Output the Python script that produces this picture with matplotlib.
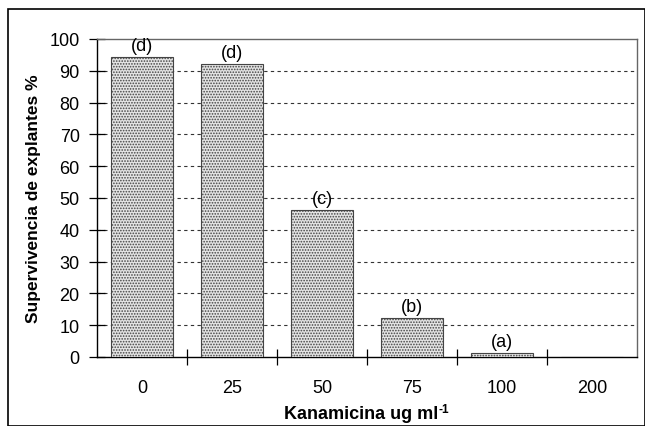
import matplotlib
matplotlib.use("Agg")
import matplotlib.pyplot as plt
from matplotlib.patches import Rectangle

categories = ["0", "25", "50", "75", "100", "200"]
survival = [94.3, 92.2, 46.3, 12.3, 1.3, 0.0]
letters = ["(d)", "(d)", "(c)", "(b)", "(a)", ""]

plt.rcParams['font.family'] = ['Liberation Sans', 'DejaVu Sans']
plt.rcParams['hatch.color'] = '#8a8a8a'
plt.rcParams['hatch.linewidth'] = 0.8

fig = plt.figure(figsize=(6.45, 4.27), dpi=100)
ax = fig.add_axes([97/645, 1-358/427, 540/645, 318/427])

x = list(range(len(categories)))
bars = ax.bar(x, survival, width=0.68, facecolor='#e4e4e4', edgecolor='#444444',
              linewidth=0.8, hatch='......', zorder=3)
for xi, v, lab in zip(x, survival, letters):
    if lab:
        ax.text(xi, v + 1.0, lab, ha='center', va='bottom', fontsize=13, zorder=4)

ax.set_xlim(-0.5, len(categories) - 0.5)
ax.set_ylim(0, 100)
ax.set_yticks(range(0, 101, 10))
ax.set_xticks(x)
ax.set_xticklabels(categories, fontsize=13)
ax.tick_params(axis='x', length=0, pad=16)
ax.set_xticks([i + 0.5 for i in x[:-1]], minor=True)
ax.tick_params(axis='x', which='minor', direction='inout', length=12, width=0.9, color='black')
ax.tick_params(axis='y', direction='inout', length=11, width=0.9, labelsize=13, pad=7)

for y in range(10, 100, 10):
    ax.axhline(y, color='#333333', linestyle=(0, (3, 3)), linewidth=0.8, zorder=1)

for s in ['left', 'bottom']:
    ax.spines[s].set_color('black')
    ax.spines[s].set_linewidth(1.0)
for s in ['top', 'right']:
    ax.spines[s].set_color('#666666')
    ax.spines[s].set_linewidth(1.0)

ax.set_ylabel('Supervivencia de explantes %', fontsize=12.5, fontweight='bold', labelpad=6)
xl = ax.set_xlabel('Kanamicina ug ml', fontsize=13, fontweight='bold', labelpad=6)
xl.set_x(0.5 - 6/540)

fig.canvas.draw()
bb = xl.get_window_extent(renderer=fig.canvas.get_renderer())
bbf = bb.transformed(fig.transFigure.inverted())
fig.text(bbf.x1 + 0.5/645, bbf.y1 + 2/427, '-1', fontsize=8.5, fontweight='bold',
         ha='left', va='top')

fig.patches.append(Rectangle((8/645, 0), 1 - 8/645 - 0.5/645, 1 - 10/427,
                             transform=fig.transFigure, fill=False,
                             edgecolor='black', linewidth=1.2))

fig.savefig('out.png', dpi=100)
